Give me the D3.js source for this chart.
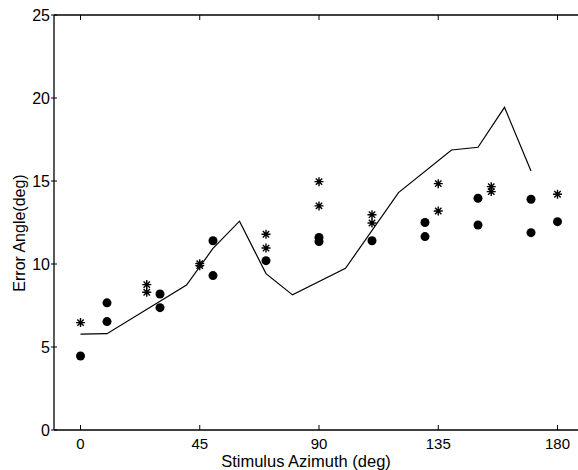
<!DOCTYPE html>
<html>
<head>
<meta charset="utf-8">
<script src="https://cdn.jsdelivr.net/npm/d3@7"></script>
<style>
  body { margin: 0; background: #fff; }
  text { font-family: "Liberation Sans", Arial, sans-serif; fill: #000; }
</style>
</head>
<body>
<svg id="viz" width="578" height="470"></svg>
<script>
const svg = d3.select("#viz");

// model curve
const lineAz  = [0, 10, 40, 50, 60, 70, 80, 100, 120, 140, 150, 160, 170];
const lineErr = [5.77, 5.8, 8.73, 10.94, 12.58, 9.42, 8.14, 9.74, 14.3, 16.87, 17.03, 19.44, 15.6];

// measured, filled dots
const dotAz  = [0, 10, 10, 30, 30, 50, 50, 70, 90, 90, 110, 130, 130, 150, 150, 170, 170, 180];
const dotErr = [4.46, 7.66, 6.53, 8.19, 7.37, 11.4, 9.3, 10.2, 11.6, 11.35, 11.4, 12.5, 11.65, 13.96, 12.35, 13.9, 11.89, 12.55];

// measured, asterisks
const starAz  = [0, 25, 25, 45, 45, 70, 70, 90, 90, 110, 110, 135, 135, 155, 155, 180];
const starErr = [6.47, 8.76, 8.3, 10.02, 9.9, 11.79, 10.96, 14.96, 13.5, 12.97, 12.47, 14.84, 13.19, 14.66, 14.36, 14.2];

const xTicks = [0, 45, 90, 135, 180];
const yTicks = [0, 5, 10, 15, 20, 25];

const x = d3.scaleLinear().domain([-10, 190]).range([54, 584]);
const y = d3.scaleLinear().domain([0, 25]).range([430, 15]);

// 枠線（上・左・下）
const frame = svg.append("g").attr("stroke", "#000").attr("stroke-width", 1.3);
frame.append("line").attr("x1", x.range()[0]).attr("x2", 578).attr("y1", y(0)).attr("y2", y(0));
frame.append("line").attr("x1", x.range()[0]).attr("x2", 578).attr("y1", y(25)).attr("y2", y(25));
frame.append("line").attr("x1", x.range()[0]).attr("x2", x.range()[0]).attr("y1", y(0)).attr("y2", y(25));

// x 軸目盛（内向き、上下）
xTicks.forEach(t => {
  frame.append("line").attr("x1", x(t)).attr("x2", x(t)).attr("y1", y(0)).attr("y2", y(0) - 5).attr("stroke-width", 1);
  frame.append("line").attr("x1", x(t)).attr("x2", x(t)).attr("y1", y(25)).attr("y2", y(25) + 5).attr("stroke-width", 1);
});
yTicks.forEach(t => {
  frame.append("line").attr("x1", x.range()[0] - 3).attr("x2", x.range()[0] + 3).attr("y1", y(t)).attr("y2", y(t)).attr("stroke-width", 1);
});

svg.append("g").selectAll("text").data(xTicks).enter().append("text")
  .attr("x", d => x(d)).attr("y", 449)
  .attr("text-anchor", "middle")
  .style("font-size", "15px")
  .text(d => d);

svg.append("g").selectAll("text").data(yTicks).enter().append("text")
  .attr("x", 50).attr("y", d => y(d)).attr("dy", "0.36em")
  .attr("text-anchor", "end")
  .style("font-size", "16px")
  .text(d => d);

// 軸ラベル
svg.append("text")
  .attr("x", 306).attr("y", 467)
  .attr("text-anchor", "middle")
  .style("font-size", "16.5px")
  .text("Stimulus Azimuth (deg)");

svg.append("text")
  .attr("transform", "translate(25,233) rotate(-90)")
  .attr("text-anchor", "middle")
  .style("font-size", "16px")
  .text("Error Angle(deg)");

// 曲線
const line = d3.line().x(d => x(d[0])).y(d => y(d[1]));
svg.append("path")
  .datum(d3.zip(lineAz, lineErr))
  .attr("d", line)
  .attr("fill", "none")
  .attr("stroke", "#000")
  .attr("stroke-width", 1.2);

// 黒丸
svg.append("g").selectAll("circle").data(d3.zip(dotAz, dotErr)).enter().append("circle")
  .attr("cx", d => x(d[0])).attr("cy", d => y(d[1]))
  .attr("r", 4.5)
  .attr("fill", "#000");

// アスタリスク（+ と × の重ね）
function starPath(r) {
  const s = r * Math.SQRT1_2;
  return `M${-r},0L${r},0M0,${-r}L0,${r}M${-s},${-s}L${s},${s}M${-s},${s}L${s},${-s}`;
}
svg.append("g").selectAll("path").data(d3.zip(starAz, starErr)).enter().append("path")
  .attr("transform", d => `translate(${x(d[0])},${y(d[1])})`)
  .attr("d", starPath(4.5))
  .attr("fill", "none")
  .attr("stroke", "#000")
  .attr("stroke-width", 1.4);
</script>
</body>
</html>
